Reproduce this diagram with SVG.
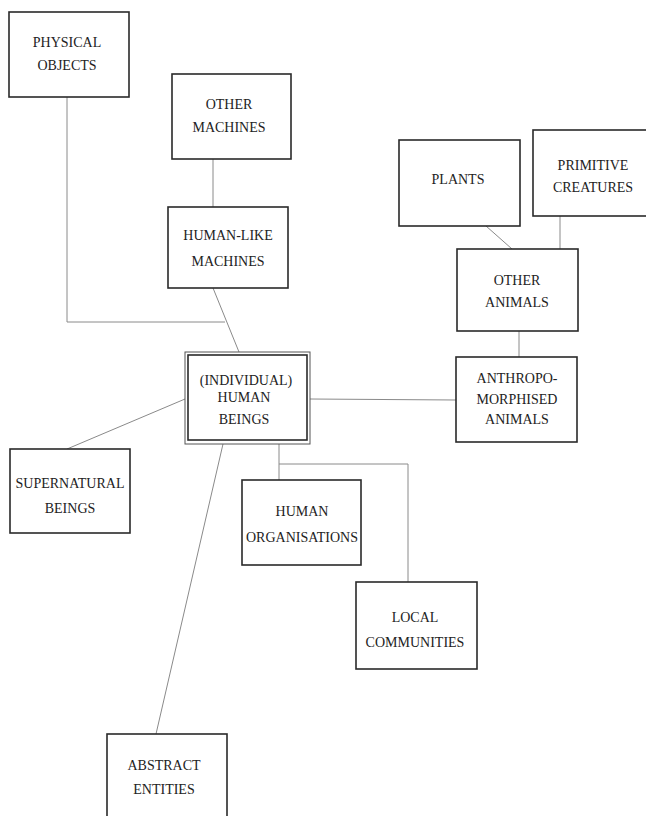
<svg xmlns="http://www.w3.org/2000/svg" width="646" height="816" viewBox="0 0 646 816">
<style>
.box{fill:#fff;stroke:#2a2a2a;stroke-width:1.6}
.box2{fill:none;stroke:#555;stroke-width:1}
.t{font-family:"Liberation Serif","Times New Roman",serif;font-size:14px;fill:#222;text-anchor:middle}
.c{fill:none;stroke:#8a8a8a;stroke-width:1}
</style>
<rect width="646" height="816" fill="#fff"/>
<g id="connectors">
<polyline class="c" points="67,97 67,322 225,322"/>
<line class="c" x1="213" y1="159" x2="213" y2="207"/>
<line class="c" x1="213" y1="288" x2="239" y2="352"/>
<line class="c" x1="185" y1="399" x2="67" y2="449"/>
<line class="c" x1="223" y1="444" x2="156" y2="734"/>
<line class="c" x1="279" y1="444" x2="279" y2="480"/>
<polyline class="c" points="279,464 408,464 408,582"/>
<line class="c" x1="310" y1="399" x2="456" y2="400"/>
<line class="c" x1="519" y1="331" x2="519" y2="357"/>
<line class="c" x1="486" y1="226" x2="512" y2="249"/>
<line class="c" x1="560" y1="216" x2="560" y2="249"/>
</g>
<g id="physical-objects">
<rect class="box" x="9" y="12" width="120" height="85"/>
<text class="t" x="67" y="47">PHYSICAL</text>
<text class="t" x="67" y="70">OBJECTS</text>
</g>
<g id="other-machines">
<rect class="box" x="172" y="74" width="119" height="85"/>
<text class="t" x="229" y="109">OTHER</text>
<text class="t" x="229" y="132">MACHINES</text>
</g>
<g id="human-like-machines">
<rect class="box" x="168" y="207" width="120" height="81"/>
<text class="t" x="228" y="240">HUMAN-LIKE</text>
<text class="t" x="228" y="266">MACHINES</text>
</g>
<g id="human-beings">
<rect class="box2" x="185" y="352" width="125" height="92"/>
<rect class="box" x="188" y="355" width="119" height="85"/>
<text class="t" x="246" y="385">(INDIVIDUAL)</text>
<text class="t" x="244" y="402">HUMAN</text>
<text class="t" x="244" y="424">BEINGS</text>
</g>
<g id="supernatural-beings">
<rect class="box" x="10" y="449" width="120" height="84"/>
<text class="t" x="70" y="488">SUPERNATURAL</text>
<text class="t" x="70" y="513">BEINGS</text>
</g>
<g id="human-organisations">
<rect class="box" x="242" y="480" width="119" height="85"/>
<text class="t" x="302" y="516">HUMAN</text>
<text class="t" x="302" y="542">ORGANISATIONS</text>
</g>
<g id="local-communities">
<rect class="box" x="356" y="582" width="121" height="87"/>
<text class="t" x="415" y="622">LOCAL</text>
<text class="t" x="415" y="647">COMMUNITIES</text>
</g>
<g id="abstract-entities">
<rect class="box" x="107" y="734" width="120" height="90"/>
<text class="t" x="164" y="770">ABSTRACT</text>
<text class="t" x="164" y="794">ENTITIES</text>
</g>
<g id="plants">
<rect class="box" x="399" y="140" width="121" height="86"/>
<text class="t" x="458" y="184">PLANTS</text>
</g>
<g id="primitive-creatures">
<rect class="box" x="533" y="130" width="120" height="86"/>
<text class="t" x="593" y="170">PRIMITIVE</text>
<text class="t" x="593" y="192">CREATURES</text>
</g>
<g id="other-animals">
<rect class="box" x="457" y="249" width="121" height="82"/>
<text class="t" x="517" y="285">OTHER</text>
<text class="t" x="517" y="307">ANIMALS</text>
</g>
<g id="anthropomorphised-animals">
<rect class="box" x="456" y="357" width="121" height="85"/>
<text class="t" x="517" y="383">ANTHROPO-</text>
<text class="t" x="517" y="404">MORPHISED</text>
<text class="t" x="517" y="424">ANIMALS</text>
</g>
</svg>
